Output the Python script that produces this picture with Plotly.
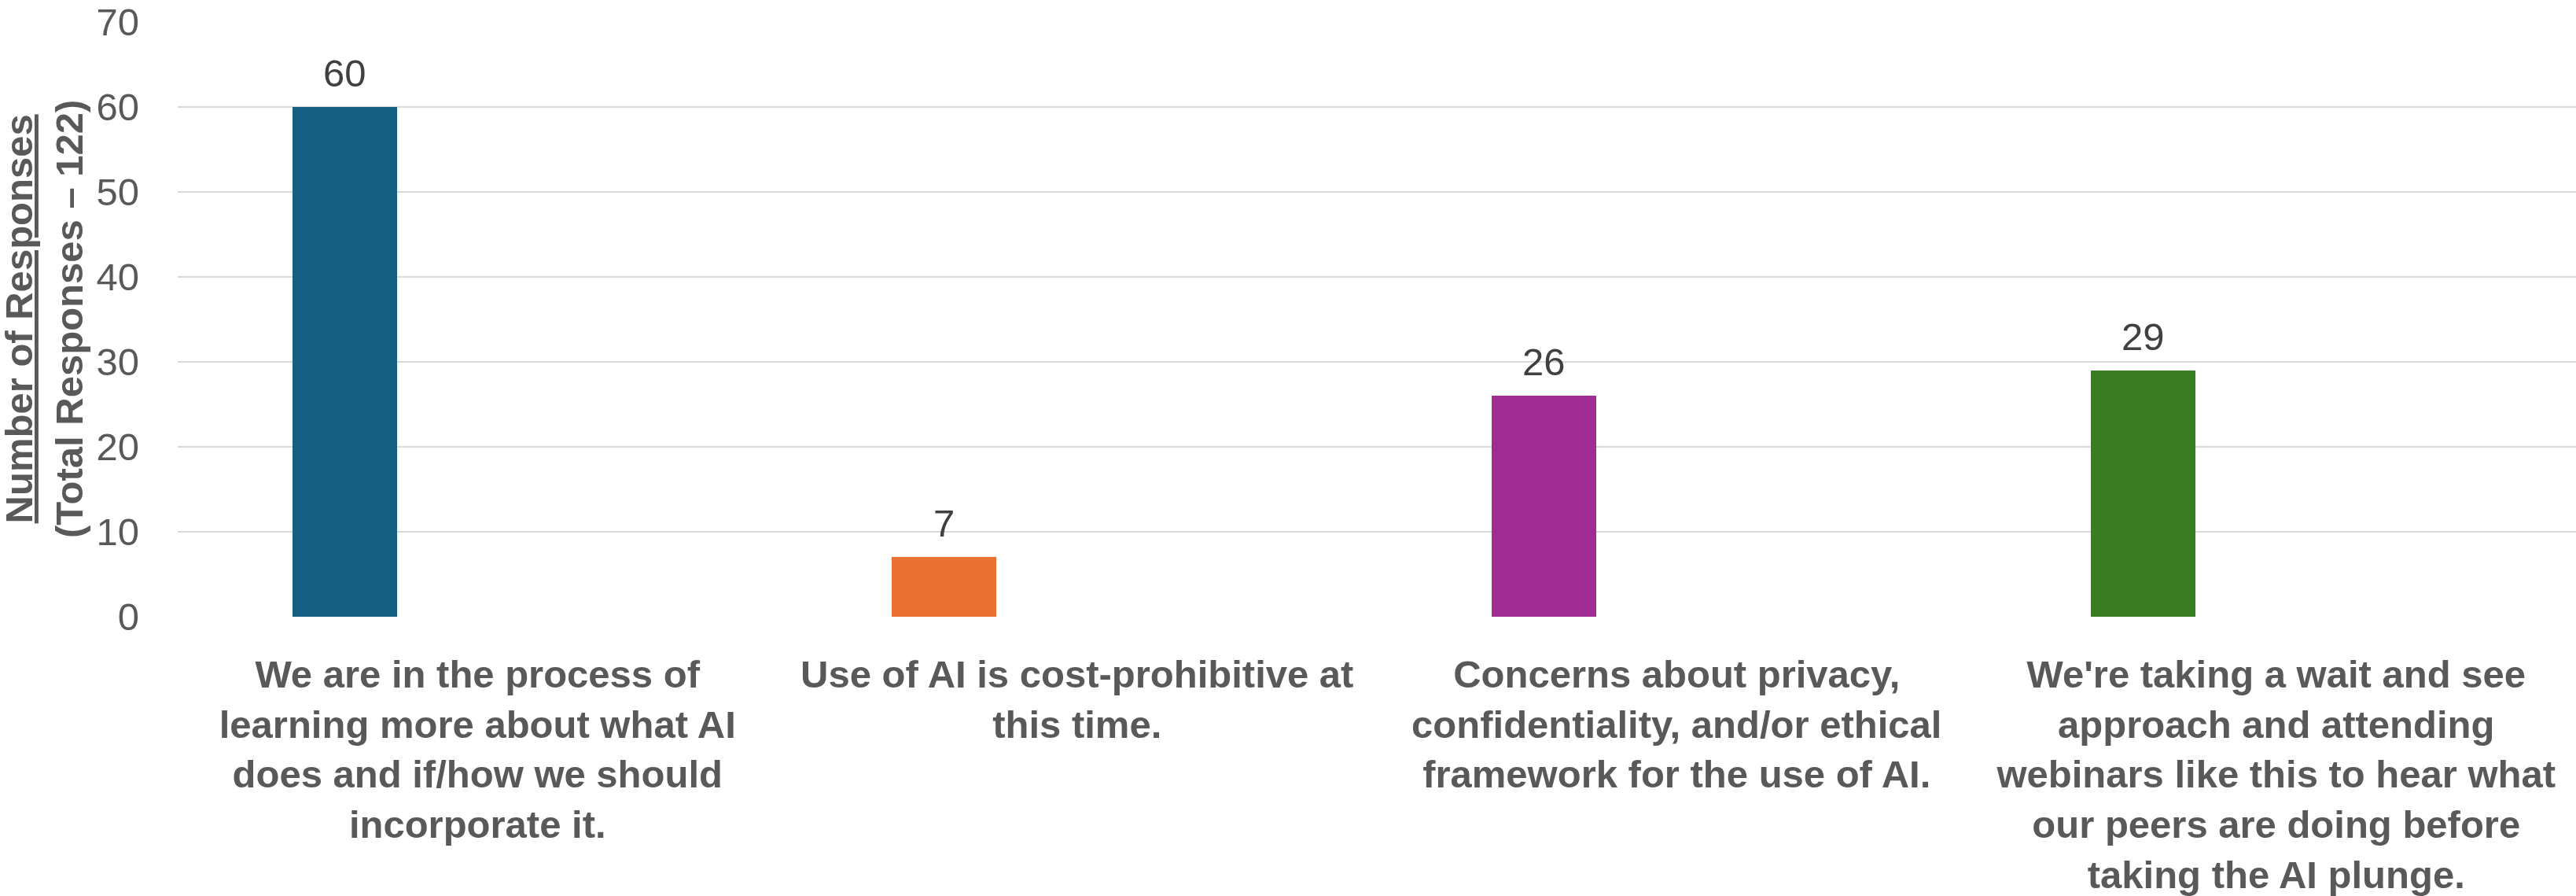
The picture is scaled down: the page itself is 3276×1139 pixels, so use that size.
import plotly.graph_objects as go

# Survey answers and their response counts
categories = [
    "We are in the process of<br>learning more about what AI<br>does and if/how we should<br>incorporate it.",
    "Use of AI is cost-prohibitive at<br>this time.",
    "Concerns about privacy,<br>confidentiality, and/or ethical<br>framework for the use of AI.",
    "We're taking a wait and see<br>approach and attending<br>webinars like this to hear what<br>our peers are doing before<br>taking the AI plunge.",
]
responses = [60, 7, 26, 29]
bar_colors = ["#156082", "#E97132", "#A02B93", "#3B7D23"]
y_ticks = [0, 10, 20, 30, 40, 50, 60, 70]

W, H = 3276, 1139
M_L, M_R, M_T, M_B = 226, 0, 28, 353

BAR_W = 0.1744      # bar width in category units
BAR_SHIFT = -0.2216  # bar centre relative to its category centre

fig = go.Figure()
fig.add_trace(go.Bar(
    x=categories,
    y=responses,
    width=BAR_W,
    offset=BAR_SHIFT - BAR_W / 2,
    marker=dict(color=bar_colors, line=dict(width=0)),
    hoverinfo="skip",
))

# value labels above each bar
for i, v in enumerate(responses):
    fig.add_annotation(
        x=i + BAR_SHIFT, y=v, xref="x", yref="y",
        text=str(v), showarrow=False,
        xanchor="center", yanchor="bottom", yshift=14,
        font=dict(family="Liberation Sans, Arial, sans-serif", size=49, color="#404040"),
    )

# two-line y-axis title
plot_w = W - M_L - M_R
fig.add_annotation(
    x=(56 - M_L) / plot_w, y=0.5, xref="paper", yref="paper",
    text="<b><u>Number of Responses</u><br>(Total Responses – 122)</b>",
    textangle=-90, showarrow=False,
    xanchor="center", yanchor="middle",
    font=dict(family="Liberation Sans, Arial, sans-serif", size=49, color="#595959"),
)

fig.update_layout(
    width=W, height=H,
    margin=dict(l=M_L, r=M_R, t=M_T, b=M_B, pad=0),
    paper_bgcolor="white", plot_bgcolor="white",
    showlegend=False,
    bargap=0,
    xaxis=dict(
        type="category",
        showgrid=False, showline=False, zeroline=False,
        ticks="",
        tickfont=dict(family="Liberation Sans, Arial, sans-serif", size=49, color="#595959", weight="bold"),
        ticklabelstandoff=40,
        fixedrange=True,
    ),
    yaxis=dict(
        range=[0, 70],
        tickvals=y_ticks,
        showgrid=True, gridcolor="#D9D9D9", gridwidth=2,
        zeroline=False, showline=False,
        ticks="",
        tickfont=dict(family="Liberation Sans, Arial, sans-serif", size=49, color="#595959"),
        ticklabelstandoff=48,
        fixedrange=True,
    ),
)

fig.write_html("out.html")
